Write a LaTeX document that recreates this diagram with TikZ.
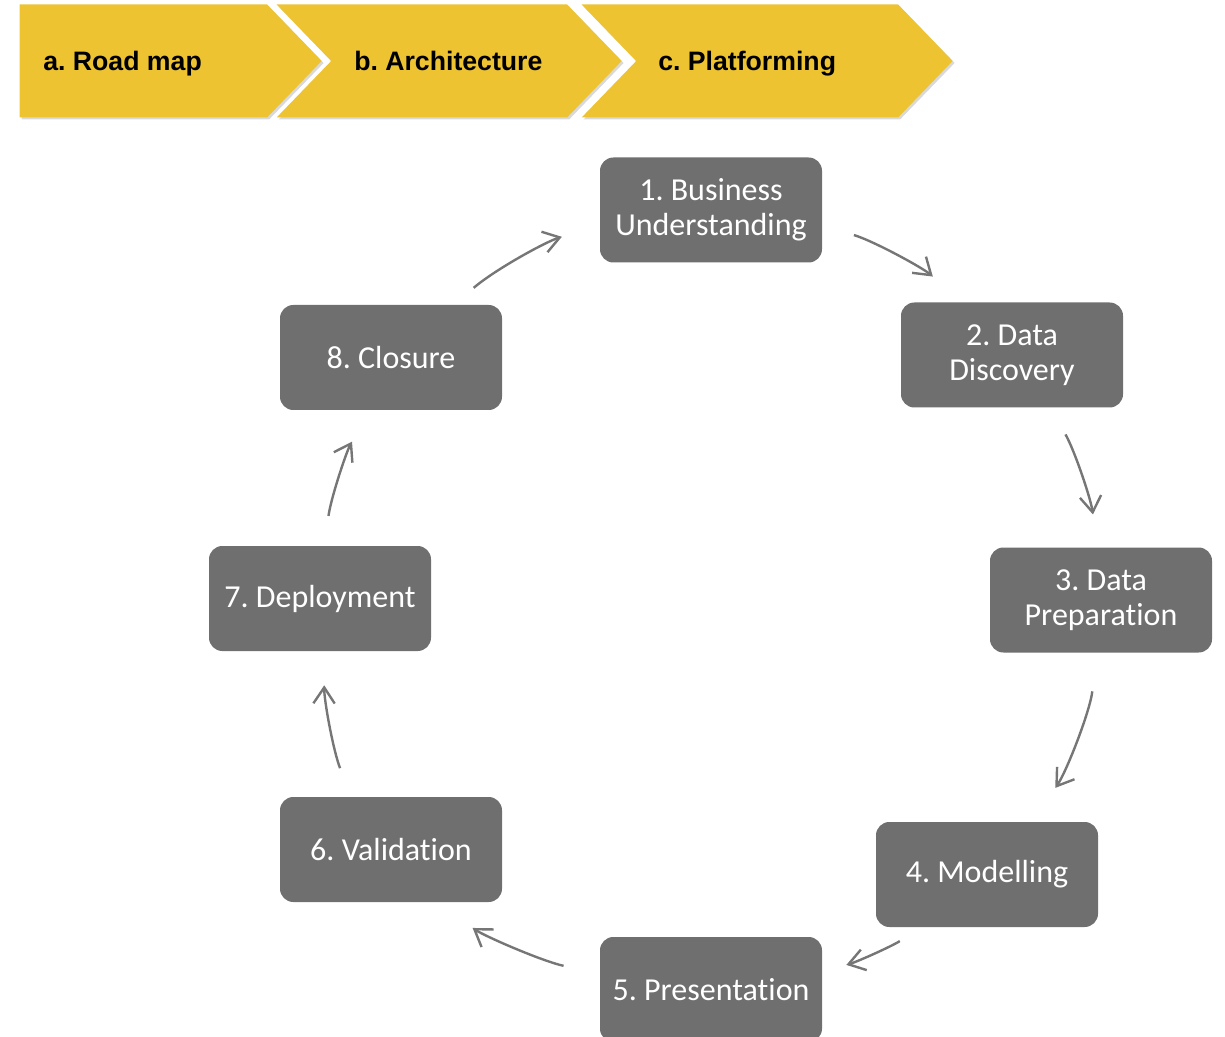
\documentclass[tikz,border=0pt]{standalone}
\usepackage{fontspec}
\newfontfamily\carlito{Carlito}[Ligatures={NoCommon,NoContextual}]
\newfontfamily\liberation{Liberation Sans}
\usetikzlibrary{positioning,calc,arrows.meta,shapes.symbols,shadows}
\definecolor{chevyellow}{RGB}{237,195,49}
\definecolor{boxgray}{RGB}{111,111,111}
\definecolor{arrowgray}{RGB}{118,118,118}
\frenchspacing

\begin{document}
\begin{tikzpicture}[x=0.75pt,y=0.75pt,
				chevron/.style={signal,signal to=east,signal pointer angle=92,fill=chevyellow,minimum height=84.75pt,inner sep=0pt,anchor=east,
					drop shadow={opacity=0.3,shadow xshift=1.5pt,shadow yshift=-1.5pt}},
				notched/.style={chevron,signal from=west},
				phase/.style={anchor=base west,inner sep=0pt,font=\liberation\bfseries\fontsize{20}{24}\selectfont},
				stage/.style={rectangle,rounded corners=10pt,fill=boxgray,text=white,minimum width=166.5pt,minimum height=78.75pt,
					align=center,font=\carlito\fontsize{24}{26.25}\selectfont},
				cycle/.style={draw=arrowgray,line width=1.8pt,looseness=0.85,-{Straight Barb[length=12pt,width=16pt]}}]
				\useasboundingbox (0,0) rectangle (1225,-1037);
				\node (roadmap)  [chevron,minimum width=226.5pt]  at (322,-61) {};
				\node (archi)    [notched,minimum width=258.75pt] at (622,-61) {};
				\node (platform) [notched,minimum width=278.25pt] at (953,-61) {};
				\node (roadmapT)  [phase] at (43,-71)  {a. Road map};
				\node (archiT)    [phase] at (354,-71) {b. Architecture};
				\node (platformT) [phase] at (658,-71) {c. Platforming};
				
				\node (busi)    [stage] at (711,-210)    {1. Business\\Understanding};
				\node (disc)    [stage] at (1012,-355)   {2. Data\\Discovery};
				\node (prep)    [stage] at (1101,-600)   {3. Data\\Preparation};
				\node (model)   [stage] at (987,-874.5)  {4. Modelling};
				\node (pres)    [stage] at (711,-989.5)  {5. Presentation};
				\node (valid)   [stage] at (391,-849.5)  {6. Validation};
				\node (deploy)  [stage] at (320,-598.5)  {7. Deployment};
				\node (closure) [stage] at (391,-357.5)  {8. Closure};
				
				\draw[cycle,bend left=12,shorten <=24.75pt,shorten >=29.6pt] (busi.-8)    to (disc.133);
				\draw[cycle,bend left=11,shorten <=23pt,shorten >=24.8pt]    (disc.-54)   to (prep.94);
				\draw[cycle,bend left=14,shorten <=29.2pt,shorten >=31.1pt]  (prep.-94)   to (model.50);
				\draw[cycle,bend left=8,shorten <=19.5pt,shorten >=18.8pt]   (model.219)  to (pres.9);
				\draw[cycle,bend left=11,shorten <=27.8pt,shorten >=34pt]    (pres.172)   to (valid.-50);
				\draw[cycle,bend left=11,shorten <=23pt,shorten >=25.5pt]    (valid.127)  to (deploy.-85);
				\draw[cycle,bend left=11,shorten <=22.5pt,shorten >=27pt]    (deploy.85)  to (closure.-112);
				\draw[cycle,bend left=12,shorten <=19.5pt,shorten >=29.6pt]  (closure.40) to (busi.188);
			\end{tikzpicture}
\end{document}
